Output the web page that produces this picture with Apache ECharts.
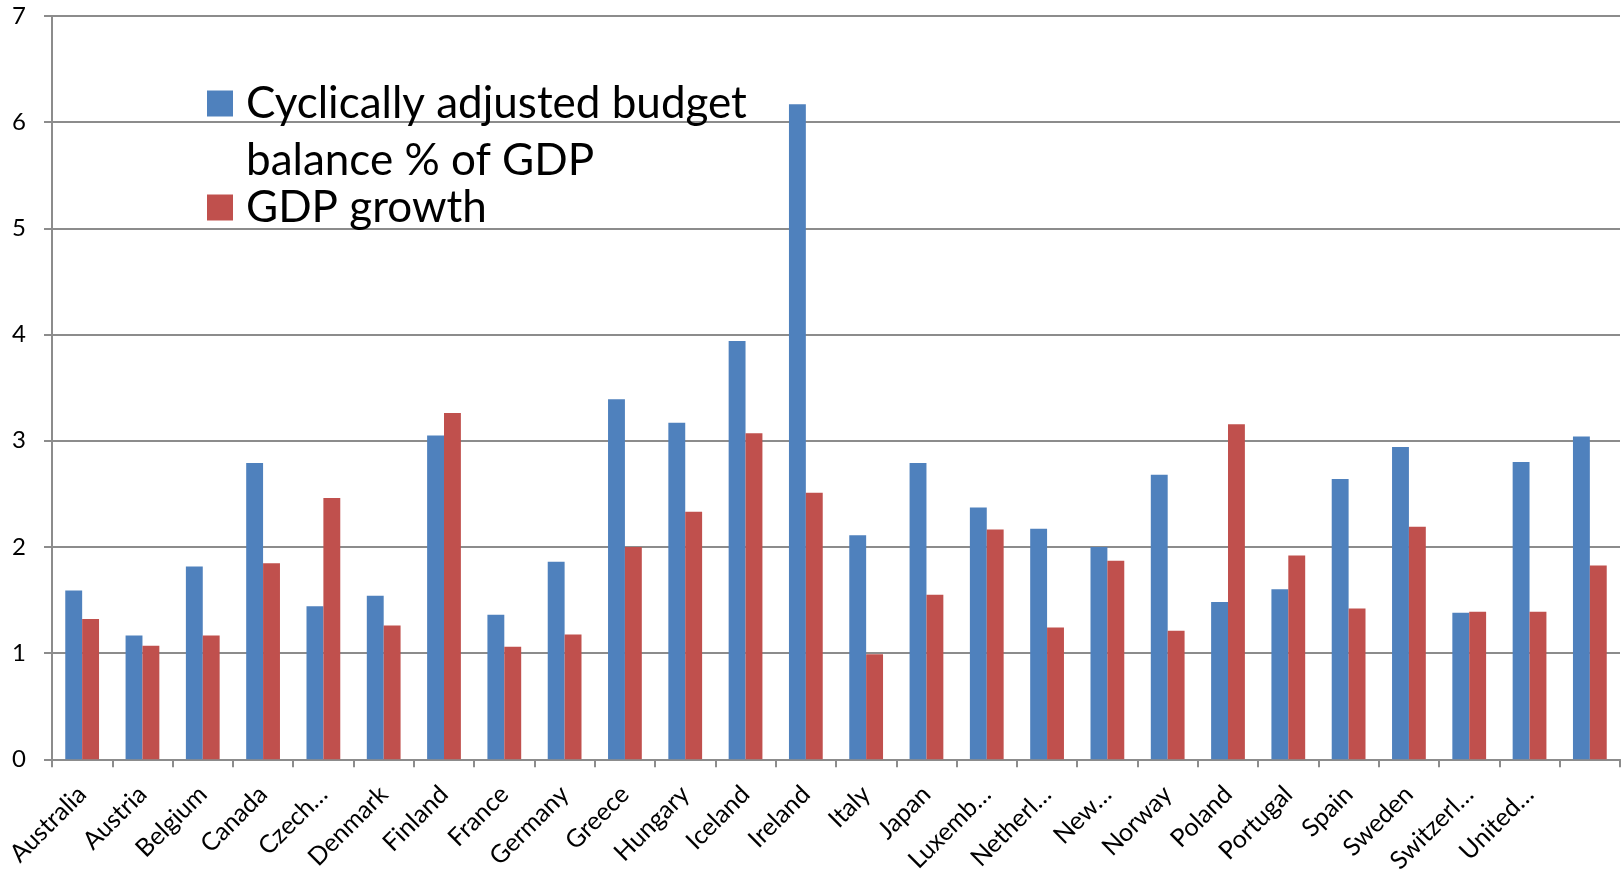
<!DOCTYPE html>
<html>
<head>
<meta charset="utf-8">
<script src="https://cdn.jsdelivr.net/npm/echarts@6/dist/echarts.min.js"></script>
<style>
html,body{margin:0;padding:0;background:#fff;}
#chart{width:1623px;height:876px;}
</style>
</head>
<body>
<div id="chart"></div>
<script>
var categories = ["Australia","Austria","Belgium","Canada","Czech…","Denmark","Finland","France","Germany","Greece","Hungary","Iceland","Ireland","Italy","Japan","Luxemb…","Netherl…","New…","Norway","Poland","Portugal","Spain","Sweden","Switzerl…","United…",""];
var budgetBalance = [1.59,1.165,1.815,2.79,1.44,1.54,3.05,1.36,1.86,3.39,3.17,3.94,6.17,2.11,2.79,2.37,2.17,2.0,2.68,1.48,1.60,2.64,2.94,1.38,2.80,3.04];
var gdpGrowth = [1.32,1.07,1.165,1.845,2.46,1.26,3.26,1.06,1.175,2.0,2.33,3.07,2.51,0.99,1.55,2.165,1.24,1.87,1.21,3.155,1.92,1.42,2.19,1.39,1.39,1.825];
var seriesNames = ["Cyclically adjusted budget\nbalance % of GDP","GDP growth"];
var yTicks = {min:0,max:7,interval:1};

var chart = echarts.init(document.getElementById('chart'));
var font = "Lato, 'Open Sans', sans-serif";
chart.setOption({
  animation:false,
  backgroundColor:'#ffffff',
  color:['#4F81BD','#C0504D'],
  grid:{left:52,right:3,top:16,bottom:114,containLabel:false},
  legend:{
    orient:'vertical',
    left:207, top:18,
    padding:0,
    itemWidth:26, itemHeight:26, itemGap:-10,
    icon:'rect',
    formatter:function(name){ return name===seriesNames[0] ? '\n'+name : name; },
    textStyle:{fontFamily:font,fontSize:44,color:'#000',lineHeight:57,padding:[0,0,0,8]},
    data:[seriesNames[0],seriesNames[1]]
  },
  xAxis:{
    type:'category',
    data:categories,
    axisLine:{lineStyle:{color:'#8c8c8c',width:2}},
    axisTick:{show:true,length:8,lineStyle:{color:'#8c8c8c',width:2}},
    axisLabel:{interval:0,rotate:45,margin:31,fontFamily:font,fontSize:25,color:'#000'}
  },
  yAxis:{
    type:'value',
    min:yTicks.min,max:yTicks.max,interval:yTicks.interval,
    axisLine:{show:true,lineStyle:{color:'#8c8c8c',width:2}},
    axisTick:{show:true,length:8,lineStyle:{color:'#8c8c8c',width:2}},
    splitLine:{lineStyle:{color:'#8c8c8c',width:2}},
    axisLabel:{margin:26,fontFamily:font,fontSize:24,color:'#000'}
  },
  series:[
    {name:seriesNames[0],type:'bar',data:budgetBalance,barGap:'0%',barCategoryGap:'44%'},
    {name:seriesNames[1],type:'bar',data:gdpGrowth,barGap:'0%',barCategoryGap:'44%'}
  ]
});
</script>
</body>
</html>
